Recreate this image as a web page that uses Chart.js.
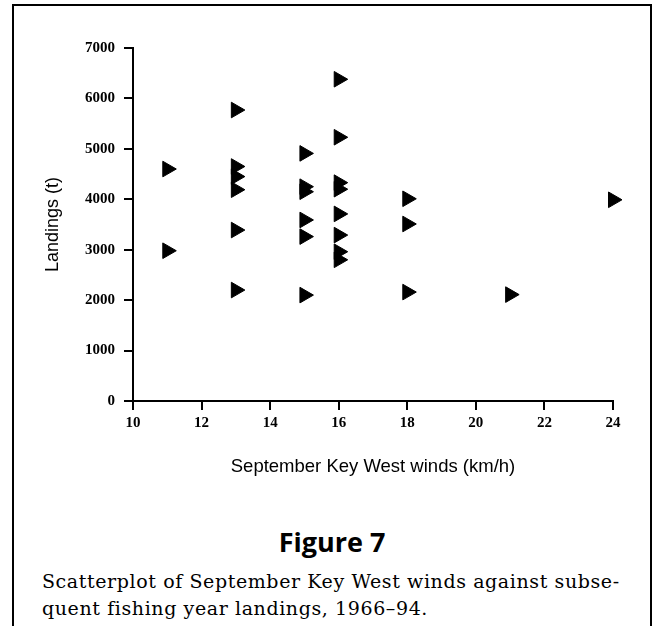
<!DOCTYPE html>
<html lang="en">
<head>
  <meta charset="UTF-8" />
  <title>Figure 7</title>
  <style>
    body {
      margin: 0;
      background: #fff;
      width: 654px;
      height: 626px;
      overflow: hidden;
      position: relative;
    }
    .frame {
      position: absolute;
      left: 12px;
      top: 4px;
      width: 636px;
      height: 640px;
      border: 2px solid #000;
      border-bottom: none;
    }
    #chartBox {
      position: absolute;
      left: 0;
      top: 0;
      width: 654px;
      height: 490px;
    }
    .fig {
      position: absolute;
      left: 12px;
      width: 640px;
      top: 524px;
      text-align: center;
      font-family: "Open Sans", sans-serif;
      font-weight: 700;
      font-size: 27px;
      line-height: 36px;
      color: #000;
    }
    .caption {
      position: absolute;
      left: 42px;
      top: 568px;
      font-family: "DejaVu Serif", serif;
      font-size: 19px;
      letter-spacing: 0.6px;
      line-height: 27px;
      color: #000;
      white-space: nowrap;
    }
  </style>
</head>
<body>
  <div class="frame"></div>
  <div id="chartBox"><canvas id="grafico"></canvas></div>
  <div class="fig">Figure 7</div>
  <div class="caption">Scatterplot of September Key West winds against subse-<br>quent fishing year landings, 1966–94.</div>

  <script src="https://cdn.jsdelivr.net/npm/chart.js"></script>
  <script>
    // valores
    const ventos = [11, 11, 13, 13, 13, 13, 13, 13, 15, 15, 15, 15, 15, 15,
                    16, 16, 16, 16, 16, 16, 16, 16, 18, 18, 18, 21, 24];
    const desembarques = [4600, 2980, 5770, 4650, 4450, 4190, 3390, 2200,
                          4910, 4250, 4150, 3590, 3260, 2100,
                          6380, 5230, 4330, 4200, 3710, 3290, 2960, 2800,
                          4010, 3510, 2160, 2110, 3990];
    const ticksX = [10, 12, 14, 16, 18, 20, 22, 24];
    const ticksY = [0, 1000, 2000, 3000, 4000, 5000, 6000, 7000];
    const tituloX = 'September Key West winds (km/h)';
    const tituloY = 'Landings (t)';

    const pontos = ventos.map((v, i) => ({ x: v, y: desembarques[i] }));

    const fonteTick = { family: '"Liberation Serif", serif', size: 15, weight: 'bold' };

    new Chart(document.getElementById('grafico'), {
      type: 'scatter',
      data: {
        datasets: [{
          data: pontos,
          clip: false,
          pointStyle: 'triangle',
          rotation: 90,
          radius: 9,
          hoverRadius: 9,
          backgroundColor: '#000',
          borderColor: '#000',
          borderWidth: 1
        }]
      },
      options: {
        responsive: true,
        maintainAspectRatio: false,
        animation: false,
        layout: { padding: { left: 30, right: 41, top: 48, bottom: 9 } },
        plugins: { legend: { display: false }, tooltip: { enabled: false } },
        scales: {
          x: {
            type: 'linear',
            min: 10,
            max: 24,
            afterBuildTicks: s => { s.ticks = ticksX.map(v => ({ value: v })); },
            afterFit: s => { s.height = 80; },
            grid: { drawOnChartArea: false, drawTicks: true, tickLength: 9, color: '#000', lineWidth: 2 },
            border: { display: true, color: '#000', width: 2 },
            ticks: { color: '#000', font: fonteTick, padding: 4, callback: v => String(v) },
            title: {
              display: true, text: tituloX, color: '#000',
              font: { family: '"Liberation Sans", Arial, sans-serif', size: 18.5 },
              padding: { top: 0, bottom: 3 }
            }
          },
          y: {
            type: 'linear',
            min: 0,
            max: 7000,
            afterBuildTicks: s => { s.ticks = ticksY.map(v => ({ value: v })); },
            afterFit: s => { s.width = 103; },
            grid: { drawOnChartArea: false, drawTicks: true, tickLength: 9, color: '#000', lineWidth: 2 },
            border: { display: true, color: '#000', width: 2 },
            ticks: { color: '#000', font: fonteTick, padding: 9, callback: v => String(v) },
            title: {
              display: true, text: tituloY, color: '#000',
              font: { family: '"Liberation Sans", Arial, sans-serif', size: 18 },
              padding: { top: 12, bottom: 0 }
            }
          }
        }
      }
    });
  </script>
</body>
</html>
